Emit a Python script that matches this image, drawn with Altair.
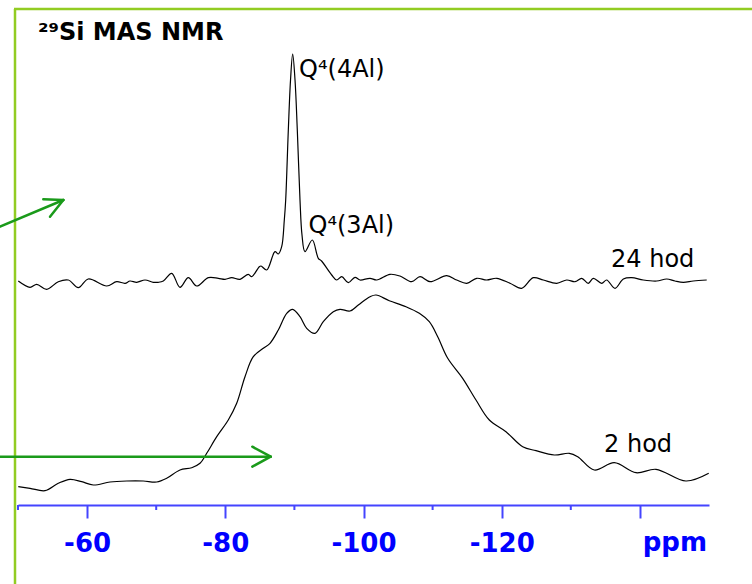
import altair as alt
import pandas as pd

# ---- data (ppm, intensity in arbitrary units) ----
ppm_24 = [-50.04, -51.74, -52.71, -54.15, -55.83, -57.28, -58.73, -60.17, -62.84, -64.28,
          -65.49, -66.21, -67.18, -68.38, -69.58, -70.30, -71.03, -72.24, -73.44, -74.65,
          -75.86, -77.54, -78.99, -79.96, -80.93, -82.13, -83.33, -83.82, -84.92, -85.17,
          -85.99, -87.19, -87.67, -88.16, -88.54, -88.74, -89.12, -89.44, -89.75, -90.09,
          -90.42, -90.81, -91.10, -91.53, -92.59, -93.46, -93.93, -95.40, -96.12, -96.85,
          -97.80, -98.77, -99.49, -100.94, -101.91, -103.83, -105.28, -106.97, -108.18, -109.62,
          -112.04, -113.49, -114.94, -116.38, -117.83, -119.28, -121.20, -122.89, -124.57, -126.02,
          -127.96, -129.41, -130.61, -131.58, -132.53, -133.26, -134.47, -135.19, -136.40, -137.60,
          -138.81, -140.49, -142.43, -143.88, -145.08, -146.28, -147.73, -149.67]
int_24 = [224, 217.7, 220.7, 215.7, 223.3, 225, 217.3, 226, 219, 223.3,
          221.7, 224, 222.7, 225, 222.7, 222.7, 224, 231.7, 217.7, 227.3,
          219, 227.3, 226.7, 225.7, 227.3, 225.7, 230.7, 228.3, 238.3, 239,
          235, 253.3, 251, 258.3, 285, 305, 375, 425, 451, 425,
          375, 305, 270, 253.3, 265, 246.7, 244, 230, 225, 228.3,
          222.3, 227.7, 225, 226.7, 225, 230.7, 229, 223.3, 228.3, 223.3,
          229.3, 225, 221.7, 226.7, 225, 226.7, 221.7, 216.7, 227.3, 225,
          221.7, 225, 223.3, 226.7, 221.7, 226.7, 221.7, 225, 216.7, 226,
          227.3, 225, 224, 226, 224, 222.7, 224, 225]

ppm_2 = [-50.04, -51.74, -53.91, -55.83, -57.53, -59.22, -60.90, -63.31, -65.73, -68.13,
         -70.07, -71.52, -73.44, -75.14, -76.34, -77.31, -78.76, -80.43, -81.65, -82.85,
         -84.05, -85.50, -86.47, -87.67, -88.89, -89.75, -90.81, -91.78, -92.98, -94.18,
         -95.63, -96.60, -98.05, -99.25, -100.94, -101.81, -103.73, -106.15, -108.08, -109.52,
         -110.74, -112.19, -114.35, -116.28, -118.21, -120.62, -123.04, -124.96, -127.61, -129.78,
         -131.00, -133.40, -136.29, -139.44, -142.33, -146.67, -149.96]
int_2 = [18.3, 16.7, 14.3, 21.7, 25.7, 23.3, 20, 23, 24, 24,
         23, 26.7, 35, 37.3, 41.7, 51.7, 68.3, 85, 101.7, 128.3,
         148.3, 156.7, 161.7, 175, 191.7, 195.7, 188.3, 176.7, 171.7, 183.3,
         193.3, 195.7, 194, 200, 208.3, 210, 204.3, 198.3, 191.7, 183.3,
         168.3, 146.7, 126.7, 105, 85, 73.3, 58.3, 54.3, 50, 51.7,
         48.3, 35, 42.3, 32.3, 35.7, 24, 31.7]

major_ticks = [-60, -80, -100, -120, -140]
minor_ticks = [-50, -70, -90, -110, -130]

ann_text = ["Q\u2074(4Al)", "Q\u2074(3Al)", "24 hod", "2 hod"]
ann_ppm = [-90.67, -92.04, -135.82, -134.81]
ann_int = [428, 271.7, 238.3, 52.7]

title_text = ["\u00b2\u2079Si MAS NMR"]
title_ppm = [-52.89]
title_int = [465]

unit_text = ["ppm"]
unit_ppm = [-149.71]
unit_int = [-46]

# arrow segments (x, y) -> (x2, y2)
arr_x = [-47.40, -86.57, -86.57, -47.40, -56.56, -56.56]
arr_y = [48.3, 48.3, 48.3, 278.3, 305, 305]
arr_x2 = [-86.57, -83.91, -83.91, -56.56, -53.66, -54.63]
arr_y2 = [48.3, 58.3, 38.3, 305, 305.7, 288.3]

FONT = "DejaVu Sans"
BLUE_AXIS = "#4444ff"
BLUE_TEXT = "#0000ff"
GREEN_FRAME = "#92cc22"
GREEN_ARROW = "#1a9a1a"

lines_df = pd.DataFrame({
    "ppm": ppm_24 + ppm_2,
    "value": int_24 + int_2,
    "series": ["24 hod"] * len(ppm_24) + ["2 hod"] * len(ppm_2),
})

xscale = alt.Scale(domain=[-150, -50], reverse=True, nice=False, zero=False)
yscale = alt.Scale(domain=[0, 500], nice=False, zero=False)

xaxis = alt.Axis(
    values=major_ticks,
    labelExpr="datum.value == -140 ? '' : '-' + abs(datum.value)",
    labelFont=FONT, labelFontSize=26, labelFontWeight="bold", labelColor=BLUE_TEXT,
    domainColor=BLUE_AXIS, domainWidth=2, tickColor=BLUE_AXIS, tickWidth=2,
    tickSize=13, labelPadding=12, grid=False, title=None,
)

lines = alt.Chart(lines_df).mark_line(
    color="black", strokeWidth=1.2, interpolate="catmull-rom", clip=False
).encode(
    x=alt.X("ppm:Q", scale=xscale, axis=xaxis),
    y=alt.Y("value:Q", scale=yscale, axis=None),
    detail="series:N",
    order=alt.Order("ppm:Q", sort="descending"),
)

minor = alt.Chart(pd.DataFrame({"ppm": minor_ticks})).mark_rule(
    color=BLUE_AXIS, strokeWidth=2
).encode(
    x=alt.X("ppm:Q", scale=xscale),
    y=alt.value(500), y2=alt.value(505),
)

ann = alt.Chart(pd.DataFrame({"ppm": ann_ppm, "value": ann_int, "t": ann_text})).mark_text(
    font=FONT, fontSize=24, color="black", align="left", baseline="alphabetic"
).encode(x=alt.X("ppm:Q", scale=xscale), y=alt.Y("value:Q", scale=yscale), text="t:N")

title = alt.Chart(pd.DataFrame({"ppm": title_ppm, "value": title_int, "t": title_text})).mark_text(
    font=FONT, fontSize=24, fontWeight="bold", color="black", align="left", baseline="alphabetic"
).encode(x=alt.X("ppm:Q", scale=xscale), y=alt.Y("value:Q", scale=yscale), text="t:N")

unit = alt.Chart(pd.DataFrame({"ppm": unit_ppm, "value": unit_int, "t": unit_text})).mark_text(
    font=FONT, fontSize=26, fontWeight="bold", color=BLUE_TEXT, align="right", baseline="alphabetic"
).encode(x=alt.X("ppm:Q", scale=xscale), y=alt.Y("value:Q", scale=yscale), text="t:N")

arrows = alt.Chart(pd.DataFrame({"x": arr_x, "y": arr_y, "x2": arr_x2, "y2": arr_y2})).mark_rule(
    color=GREEN_ARROW, strokeWidth=2.5, strokeCap="round"
).encode(
    x=alt.X("x:Q", scale=xscale), y=alt.Y("y:Q", scale=yscale),
    x2="x2:Q", y2="y2:Q",
)

frame_left = alt.Chart(pd.DataFrame({"k": [0]})).mark_rule(color=GREEN_FRAME, strokeWidth=2.5).encode(
    x=alt.value(-3), y=alt.value(4), y2=alt.value(600)
)
frame_top = alt.Chart(pd.DataFrame({"k": [0]})).mark_rule(color=GREEN_FRAME, strokeWidth=2.5).encode(
    x=alt.value(-4), x2=alt.value(760), y=alt.value(4)
)

chart = alt.layer(
    frame_left, frame_top, minor, lines, ann, title, unit, arrows
).properties(
    width=691, height=500,
    padding={"left": 18, "top": 5, "right": 43, "bottom": 79},
    autosize=alt.AutoSizeParams(type="none"),
    background="white",
).configure_view(stroke=None)

chart.save("out.html", embed_options={"renderer": "svg", "actions": False})
